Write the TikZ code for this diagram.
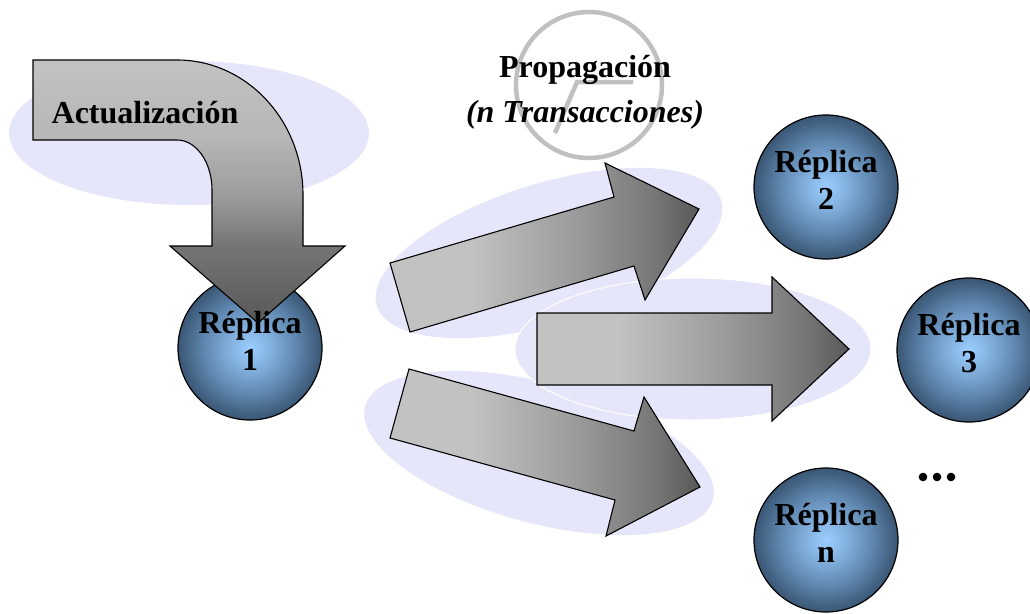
\documentclass[tikz,border=0pt]{standalone}
\usepackage{fontspec}
\setmainfont{Liberation Serif}
\usetikzlibrary{calc}

\definecolor{haze}{RGB}{230,230,250}
\definecolor{ballin}{RGB}{155,205,255}
\definecolor{ballmid}{RGB}{135,182,228}
\definecolor{ballrim}{RGB}{95,135,175}
\definecolor{ballout}{RGB}{58,86,116}
\definecolor{steelA}{RGB}{194,194,194}
\definecolor{steelAB}{RGB}{182,182,182}
\definecolor{steelB}{RGB}{155,155,155}
\definecolor{steelC}{RGB}{118,118,118}
\definecolor{steelD}{RGB}{88,88,88}
\definecolor{clockgray}{RGB}{192,192,192}

% sphere-like fill for the replica nodes
\pgfdeclareradialshading{replicaball}{\pgfpoint{0bp}{0bp}}{%
  color(0bp)=(ballin); color(6bp)=(ballmid); color(16bp)=(ballrim);
  color(25bp)=(ballout); color(50bp)=(ballout)}
% light-to-dark fill running left to right
\pgfdeclarehorizontalshading{shaftshade}{100bp}{%
  color(0bp)=(steelA); color(25bp)=(steelA); color(38bp)=(steelA);
  color(55bp)=(steelB); color(68bp)=(steelC); color(75bp)=(steelD);
  color(100bp)=(steelD)}
% light-to-dark fill running top to bottom
\pgfdeclareverticalshading{bendshade}{100bp}{%
  color(0bp)=(steelD); color(25bp)=(steelD); color(40bp)=(steelC);
  color(49bp)=(steelB); color(60bp)=(steelAB); color(75bp)=(steelA);
  color(100bp)=(steelA)}

\tikzset{
  halo/.style={fill=haze},
  ball/.style={circle, draw=black, line width=1.2pt, shading=replicaball,
    minimum size=144pt, inner sep=0pt},
  balltext/.style={align=center, inner sep=0pt,
    font=\fontsize{32}{37}\selectfont\bfseries},
  bigarrow/.style={draw=black, line width=1.1pt, line join=miter, shading=shaftshade},
  bentarrow/.style={draw=black, line width=1.1pt, line join=miter, shading=bendshade},
  title/.style={inner sep=0pt, anchor=base, font=\fontsize{32}{37}\selectfont\bfseries},
  clock/.style={draw=clockgray, line width=4.5pt},
}

\begin{document}
\begin{tikzpicture}[x=1pt, y=-1pt]
\useasboundingbox (0,0) rectangle (1030,613);

% soft background halos
\fill[halo] (189,133) ellipse [x radius=180, y radius=72];
\fill[halo, rotate around={17:(549,253)}] (549,253) ellipse [x radius=180, y radius=70];
\fill[halo, rotate around={-15:(539,453)}] (539,453) ellipse [x radius=180, y radius=70];
\filldraw[halo, draw=white, line width=1pt] (693,349) ellipse [x radius=178, y radius=71];

% clock behind the propagation title
\node[circle, clock, minimum size=146pt, inner sep=0pt] (clk) at (589,85) {};
\coordinate (hub) at (577,82);
\coordinate (hourtip) at (633,82);
\coordinate (mintip) at (555,133);
\draw[clock, line cap=butt] (hourtip) -- (hub) -- (mintip);

% replica 1 sits under the update arrow
\node[ball] (r1) at (250,348) {};

% update arrow bending down into replica 1
\path[bentarrow] (33,60) -- (177,60)
  arc[start angle=-90, end angle=0, x radius=126, y radius=135]
  -- (303,246) -- (345,246) -- (258,323) -- (170,246) -- (212,246)
  -- (212,190)
  arc[start angle=0, end angle=-90, x radius=35, y radius=50]
  -- (33,140) -- cycle;

\node[balltext] (r1t) at ($(r1.center)+(0,-7)$) {Réplica\\1};
\node[title] (upd) at (145,123) {Actualización};

% propagation arrows
\path[bigarrow] (390,263) -- (614,197) -- (605,163) -- (699,209)
  -- (645,300) -- (634,266) -- (410,332) -- cycle;
\path[bigarrow] (537,313) -- (772,313) -- (772,277) -- (849,349)
  -- (772,421) -- (772,385) -- (537,385) -- cycle;
\path[bigarrow] (409,369) -- (634,431) -- (644,397) -- (700,487)
  -- (606,536) -- (615,500) -- (390,438) -- cycle;

\node[title] (prop) at (585,77) {Propagación};
\node[title] (ntx) at (585,122) {\itshape(n Transacciones)};

% remaining replicas
\node[ball] (r2) at (826,187) {};
\node[balltext] (r2t) at ($(r2.center)+(0,-7)$) {Réplica\\2};
\node[ball] (r3) at (969,350) {};
\node[balltext] (r3t) at ($(r3.center)+(0,-7)$) {Réplica\\3};
\node[ball] (rn) at (826,540) {};
\node[balltext] (rnt) at ($(rn.center)+(0,-7)$) {Réplica\\n};

% ellipsis dots
\fill (923,477) circle[radius=4.3] (937,477) circle[radius=4.3] (951,477) circle[radius=4.3];
\end{tikzpicture}
\end{document}
